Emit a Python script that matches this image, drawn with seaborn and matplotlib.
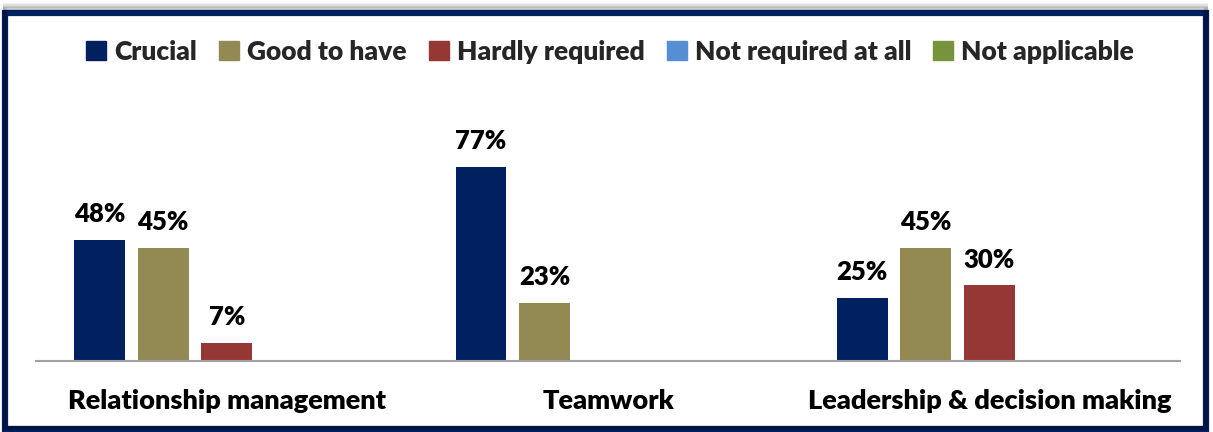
import matplotlib
matplotlib.use("Agg")
import matplotlib.pyplot as plt
from matplotlib.patches import Rectangle
import seaborn as sns
import pandas as pd

categories = ["Relationship management", "Teamwork", "Leadership & decision making"]
levels = ["Crucial", "Good to have", "Hardly required", "Not required at all", "Not applicable"]
crucial = [48, 77, 25]
good_to_have = [45, 23, 45]
hardly_required = [7, 0, 30]
not_required = [0, 0, 0]
not_applicable = [0, 0, 0]
colors = ["#002060", "#938953", "#953735", "#558ED5", "#77933C"]

series = [crucial, good_to_have, hardly_required, not_required, not_applicable]
rows = []
for level, vals in zip(levels, series):
    for cat, v in zip(categories, vals):
        rows.append({"Skill": cat, "Level": level, "Share": v})
df = pd.DataFrame(rows)

sns.set_theme(style="white")
plt.rcParams["font.family"] = ["Lato", "DejaVu Sans"]
WEIGHT = "heavy"

fig = plt.figure(figsize=(12.13, 4.32), dpi=100)
ax = fig.add_axes([0.0297, 0.1644, 0.9431, 0.583])

sns.barplot(data=df, x="Skill", y="Share", hue="Level", order=categories,
            hue_order=levels, palette=colors, width=0.833, gap=0.2,
            saturation=1, edgecolor="none", ax=ax, legend=False)

ax.set_ylim(0, 100)
ax.set_xlim(-0.5, 2.5)
ax.set_xlabel("")
ax.set_ylabel("")
ax.set_yticks([])
ax.tick_params(axis="x", length=0, pad=20)
for lbl in ax.get_xticklabels():
    lbl.set_fontsize(19.5)
    lbl.set_fontweight(WEIGHT)
    lbl.set_color("black")
for side in ["top", "right", "left"]:
    ax.spines[side].set_visible(False)
ax.spines["bottom"].set_color("#A0A0A0")
ax.spines["bottom"].set_linewidth(1.5)

# value labels above non-zero bars
for container in ax.containers:
    labels = [f"{int(b.get_height())}%" if b.get_height() > 0 else "" for b in container]
    ax.bar_label(container, labels=labels, padding=10, fontsize=18.5,
                 fontweight=WEIGHT, color="black")

# legend across the top
handles = [Rectangle((0, 0), 1, 1, color=c) for c in colors]
fig.legend(handles, levels, loc="center", bbox_to_anchor=(0.503, 0.88), ncol=5,
           frameon=False, handlelength=0.75, handleheight=0.75, handletextpad=0.3,
           columnspacing=0.85, prop={"weight": WEIGHT, "size": 19})

# drop shadow and dark frame around the chart
for i, a in enumerate([0.05, 0.07, 0.09, 0.11]):
    off = (4 - i) * 0.0035
    fig.patches.append(Rectangle((0.004, 0.01), 0.99, 0.965 + off, transform=fig.transFigure,
                                 fill=False, edgecolor="black", alpha=a, linewidth=3))
fig.patches.append(Rectangle((0.004, 0.008), 0.99, 0.963, transform=fig.transFigure,
                             fill=True, facecolor="white", edgecolor="#002060", linewidth=4.5,
                             zorder=-1))

fig.savefig("out.png", dpi=100)
